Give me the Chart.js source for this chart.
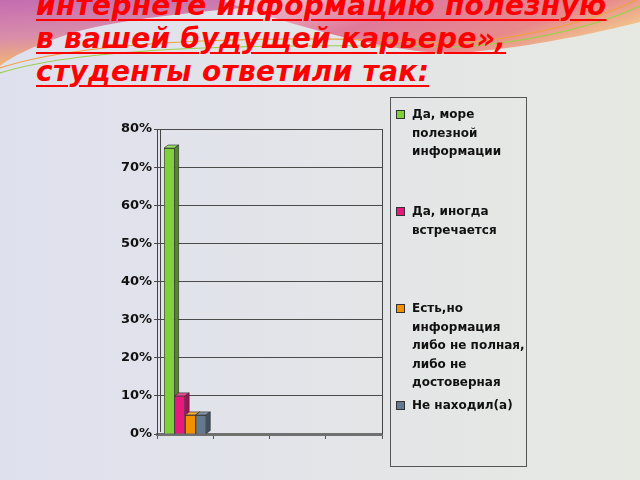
<!DOCTYPE html>
<html lang="ru">
<head>
<meta charset="UTF-8">
<title>Ответы студентов</title>
<script src="https://cdn.jsdelivr.net/npm/chart.js@4.4.1/dist/chart.umd.min.js"></script>
<style>
    html, body { margin: 0; padding: 0; }
    body { width: 640px; height: 480px; position: relative; overflow: hidden; font-family: "DejaVu Sans", sans-serif; }
    #bg { position: absolute; left: 0; top: 0; }
    #title {
        position: absolute; left: 36px; top: -11px; margin: 0;
        font: italic bold 28px/33px "DejaVu Sans", sans-serif;
        letter-spacing: 0.3px;
        color: #ff0000; white-space: nowrap;
    }
    #title span { text-decoration: underline; text-decoration-thickness: 2px; text-underline-offset: 4px; }
    #chartBox { position: absolute; left: 0; top: 0; width: 640px; height: 480px; }
    #legend {
        position: absolute; left: 390px; top: 97px; width: 135px; height: 368px;
        border: 1px solid #555;
    }
    .item { position: absolute; left: 5px; font: bold 12px/18.5px "DejaVu Sans", sans-serif; color: #111; }
    .item i { position: absolute; left: 0; top: 5px; width: 7px; height: 7px; border: 1px solid #333; }
    .item div { margin-left: 16px; white-space: nowrap; }
</style>
</head>
<body>
<svg id="bg" width="640" height="480">
    <defs>
        <linearGradient id="gBg" x1="0" y1="0" x2="1" y2="0">
            <stop offset="0" stop-color="#dfe0ee"/>
            <stop offset="1" stop-color="#e6e9e2"/>
        </linearGradient>
        <linearGradient id="gA" x1="0" y1="0" x2="0.25" y2="1">
            <stop offset="0" stop-color="#c46cb2"/>
            <stop offset="0.55" stop-color="#da8ea8"/>
            <stop offset="1" stop-color="#f4bb6a"/>
        </linearGradient>
        <linearGradient id="gB" x1="0" y1="0" x2="1" y2="0.4">
            <stop offset="0" stop-color="#eed0dc"/>
            <stop offset="0.45" stop-color="#e07a9a"/>
            <stop offset="0.8" stop-color="#e88a8c"/>
            <stop offset="1" stop-color="#f0c08c"/>
        </linearGradient>
    </defs>
    <rect width="640" height="480" fill="url(#gBg)"/>
    <path d="M0,0 H330 C250,8 140,14 75,32 C38,44 12,56 0,66 Z" fill="url(#gA)"/>
    <path d="M220,0 C300,28 380,50 450,54 C530,48 600,32 640,22 V0 Z" fill="url(#gB)"/>
    <path d="M0,68 C90,38 300,34 450,44 C540,38 610,14 640,-2" stroke="#f0a040" stroke-width="1.2" fill="none"/>
    <path d="M0,73 C90,44 300,44 455,47 C545,42 610,20 640,6" stroke="#9ccf50" stroke-width="1.2" fill="none"/>
</svg>

<div id="title">
    <span>интернете информацию полезную</span><br>
    <span>в вашей будущей карьере»,</span><br>
    <span>студенты ответили так:</span>
</div>

<div id="chartBox"><canvas id="answers" width="640" height="480"></canvas></div>
<div id="legend"></div>

<script>
    // одна группа столбцов, остальные категории пустые
    const categories = ['', '', '', ''];
    const seriesNames = [
        ['Да, море', 'полезной', 'информации'],
        ['Да, иногда', 'встречается'],
        ['Есть,но', 'информация', 'либо не полная,', 'либо не', 'достоверная'],
        ['Не находил(а)']
    ];
    const seriesValues = [
        [75, null, null, null],
        [10, null, null, null],
        [5, null, null, null],
        [5, null, null, null]
    ];
    const yTicks = [0, 10, 20, 30, 40, 50, 60, 70, 80];

    const colors = ['#7fd13b', '#e8197d', '#f39000', '#63798f'];
    const sideColors = ['#4f8c1f', '#a30f55', '#a86200', '#3e5062'];
    const topColors = ['#9ee064', '#f04c9a', '#f7ac3c', '#8497aa'];

    // объём у столбцов, как в Excel: рисуем слева направо, чтобы соседний столбец перекрывал бок
    const depth = { dx: 4, dy: 3 };
    const bar3d = {
        id: 'bar3d',
        afterDatasetsDraw(chart) {
            const ctx = chart.ctx;
            chart.data.datasets.forEach((ds, i) => {
                chart.getDatasetMeta(i).data.forEach((bar, j) => {
                    if (seriesValues[i][j] == null) return;
                    bar.draw(ctx);
                    const p = bar.getProps(['x', 'y', 'base', 'width'], true);
                    const l = p.x - p.width / 2, r = p.x + p.width / 2;
                    ctx.save();
                    ctx.strokeStyle = '#333';
                    ctx.lineWidth = 0.7;
                    ctx.fillStyle = topColors[i];
                    ctx.beginPath();
                    ctx.moveTo(l, p.y);
                    ctx.lineTo(l + depth.dx, p.y - depth.dy);
                    ctx.lineTo(r + depth.dx, p.y - depth.dy);
                    ctx.lineTo(r, p.y);
                    ctx.closePath();
                    ctx.fill();
                    ctx.stroke();
                    ctx.fillStyle = sideColors[i];
                    ctx.beginPath();
                    ctx.moveTo(r, p.y);
                    ctx.lineTo(r + depth.dx, p.y - depth.dy);
                    ctx.lineTo(r + depth.dx, p.base - depth.dy);
                    ctx.lineTo(r, p.base);
                    ctx.closePath();
                    ctx.fill();
                    ctx.stroke();
                    ctx.restore();
                });
            });
        },
        afterDraw(chart) {
            const a = chart.chartArea, ctx = chart.ctx;
            ctx.save();
            ctx.strokeStyle = '#444';
            ctx.lineWidth = 1;
            ctx.beginPath();
            ctx.moveTo(a.right + 0.5, a.top);
            ctx.lineTo(a.right + 0.5, a.bottom);
            ctx.moveTo(a.left + 3.5, a.top);
            ctx.lineTo(a.left + 3.5, a.bottom - 2);
            ctx.stroke();
            ctx.restore();
        }
    };

    const datasets = seriesValues.map((vals, i) => ({
        label: seriesNames[i].join(' '),
        data: vals,
        backgroundColor: colors[i],
        borderColor: '#333',
        borderWidth: 0.7,
        categoryPercentage: 0.75,
        barPercentage: 1
    }));

    new Chart(document.getElementById('answers'), {
        type: 'bar',
        data: { labels: categories, datasets: datasets },
        options: {
            responsive: false,
            animation: false,
            layout: { padding: { left: 0, top: 129, right: 258, bottom: 41 } },
            plugins: { legend: { display: false }, tooltip: { enabled: false } },
            scales: {
                x: {
                    ticks: { display: false },
                    grid: { drawOnChartArea: false, tickLength: 5, color: '#555' },
                    border: { color: '#707070', width: 3 },
                    afterFit: (s) => { s.height = 5; }
                },
                y: {
                    min: 0,
                    max: yTicks[yTicks.length - 1],
                    afterBuildTicks: (s) => { s.ticks = yTicks.map(v => ({ value: v })); },
                    ticks: {
                        padding: 2,
                        color: '#111',
                        font: { family: 'DejaVu Sans', weight: 'bold', size: 13 },
                        callback: (v) => v + '%'
                    },
                    grid: { color: '#4a4a4a', lineWidth: 1, tickLength: 3 },
                    border: { color: '#444', width: 1 },
                    afterFit: (s) => { s.width = 157; }
                }
            }
        },
        plugins: [bar3d]
    });

    // легенда справа
    const legendEl = document.getElementById('legend');
    seriesNames.forEach((lines, i) => {
        const item = document.createElement('div');
        item.className = 'item';
        item.style.top = (7 + i * 97) + 'px';
        const sq = document.createElement('i');
        sq.style.background = colors[i];
        item.appendChild(sq);
        const txt = document.createElement('div');
        txt.innerHTML = lines.join('<br>');
        item.appendChild(txt);
        legendEl.appendChild(item);
    });
</script>
</body>
</html>
